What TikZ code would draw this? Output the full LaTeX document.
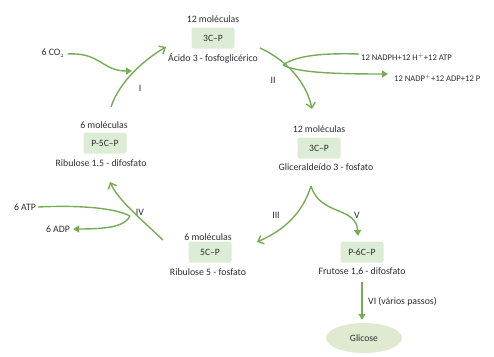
\documentclass[tikz,border=0pt]{standalone}
\usepackage{fontspec}
\setmainfont{Carlito}
\usetikzlibrary{arrows.meta,shapes.geometric,calc}
\definecolor{arr}{RGB}{118,172,86}
\definecolor{boxf}{RGB}{221,236,212}
\definecolor{ellf}{RGB}{223,234,208}
\definecolor{txt}{RGB}{45,45,45}
\tikzset{
  lbl/.style={text=txt,font=\fontsize{9.8}{11}\selectfont,inner sep=0pt},
  sml/.style={text=txt,font=\fontsize{8.6}{10}\selectfont,inner sep=0pt},
  molbox/.style={fill=boxf,rounded corners=2pt,minimum width=43pt,minimum height=21pt,text=txt,font=\fontsize{9.6}{11}\selectfont,inner sep=1pt},
  flow/.style={draw=arr,line width=1.4pt},
  openarr/.style={flow,-{Straight Barb[length=5pt,width=9pt,line width=1.4pt]}},
  fillarr/.style={flow,-{Triangle[length=6pt,width=7pt]}}
}
\begin{document}
\begin{tikzpicture}[x=1pt,y=-1pt]
\useasboundingbox (0,0) rectangle (494,356);
% group 1
\node[lbl] (n1top) at (213,19) {12 moléculas};
\node[molbox] (box1) at (213,38) {3C–P};
\node[lbl] (n1bot) at (213,58) {Ácido 3 - fosfoglicérico};
% group 2
\node[lbl] (n2top) at (319,129) {12 moléculas};
\node[molbox] (box2) at (319,148) {3C–P};
\node[lbl] (n2bot) at (326,167) {Gliceraldeído 3 - fosfato};
% group 3
\node[lbl] (n3top) at (208,237) {6 moléculas};
\node[molbox] (box3) at (210,252) {5C–P};
\node[lbl] (n3bot) at (208,272) {Ribulose 5 - fosfato};
% group 4
\node[molbox] (box4) at (362,252) {P-6C–P};
\node[lbl] (n4bot) at (362,272) {Frutose 1,6 - difosfato};
\node[ellipse,fill=ellf,minimum width=76pt,minimum height=30pt,inner sep=0pt,text=txt,font=\fontsize{9.6}{11}\selectfont] (glic) at (364,338) {Glicose};
% group 5
\node[lbl] (n5top) at (104,125) {6 moléculas};
\node[molbox] (box5) at (105,143) {P-5C–P};
\node[lbl] (n5bot) at (101,163) {Ribulose 1.5 - difosfato};
% side substances
\node[lbl] (co2) at (53,53) {6 CO$_{\scriptscriptstyle 2}$};
\node[sml,anchor=west] (nadph) at (361,57) {12 NADPH+12 H$^{+}$+12 ATP};
\node[sml,anchor=west] (nadp) at (394,78) {12 NADP$^{+}$+12 ADP+12 P};
\node[lbl] (atp) at (25,207) {6 ATP};
\node[lbl] (adp) at (58,229) {6 ADP};
% step labels
\node[lbl] (sI) at (140,88) {I};
\node[lbl] (sII) at (273,80) {II};
\node[lbl] (sIII) at (276,215) {III};
\node[lbl] (sIV) at (140,212) {IV};
\node[lbl] (sV) at (357,215) {V};
\node[lbl,anchor=west] (sVI) at (368,302) {VI (vários passos)};
% coordinates
\coordinate (pI0) at (111,107);
\coordinate (pI1) at (166,47);
\coordinate (pc1) at (132,71);
\coordinate (pII0) at (260,48);
\coordinate (pII1) at (312,109);
\coordinate (pb) at (283,65);
\coordinate (pn1) at (388,74);
\coordinate (pcusp) at (311,186);
\coordinate (pIII1) at (257,242);
\coordinate (pV1) at (358,236);
\coordinate (pIV0) at (163,240);
\coordinate (pIV1) at (110,182);
\coordinate (pj) at (130,216);
% connectors
\draw[openarr] (pI0) .. controls (118,85) and (140,62) .. (pI1);
\draw[fillarr] ($(co2.east)+(3,1)$) .. controls (100,52) and (102,71) .. (pc1);
\draw[openarr] (pII0) .. controls (290,62) and (307,85) .. (pII1);
\draw[flow] (pb) .. controls (297,55) and (325,53) .. ($(nadph.west)+(-2,-3)$);
\draw[fillarr] (pb) .. controls (297,73) and (340,74) .. (pn1);
\draw[openarr] (pcusp) .. controls (303,212) and (285,230) .. (pIII1);
\draw[fillarr] (pcusp) .. controls (320,216) and (356,206) .. (pV1);
\draw[fillarr] ($(n4bot.south)+(0,6)$) -- ($(glic.north)+(-2,-3)$);
\draw[openarr] (pIV0) .. controls (142,220) and (118,200) .. (pIV1);
\draw[flow] ($(atp.east)+(2,0)$) .. controls (80,205) and (115,208) .. (pj);
\draw[fillarr] (pj) .. controls (125,227) and (105,229) .. ($(adp.east)+(3,0)$);
\end{tikzpicture}
\end{document}
